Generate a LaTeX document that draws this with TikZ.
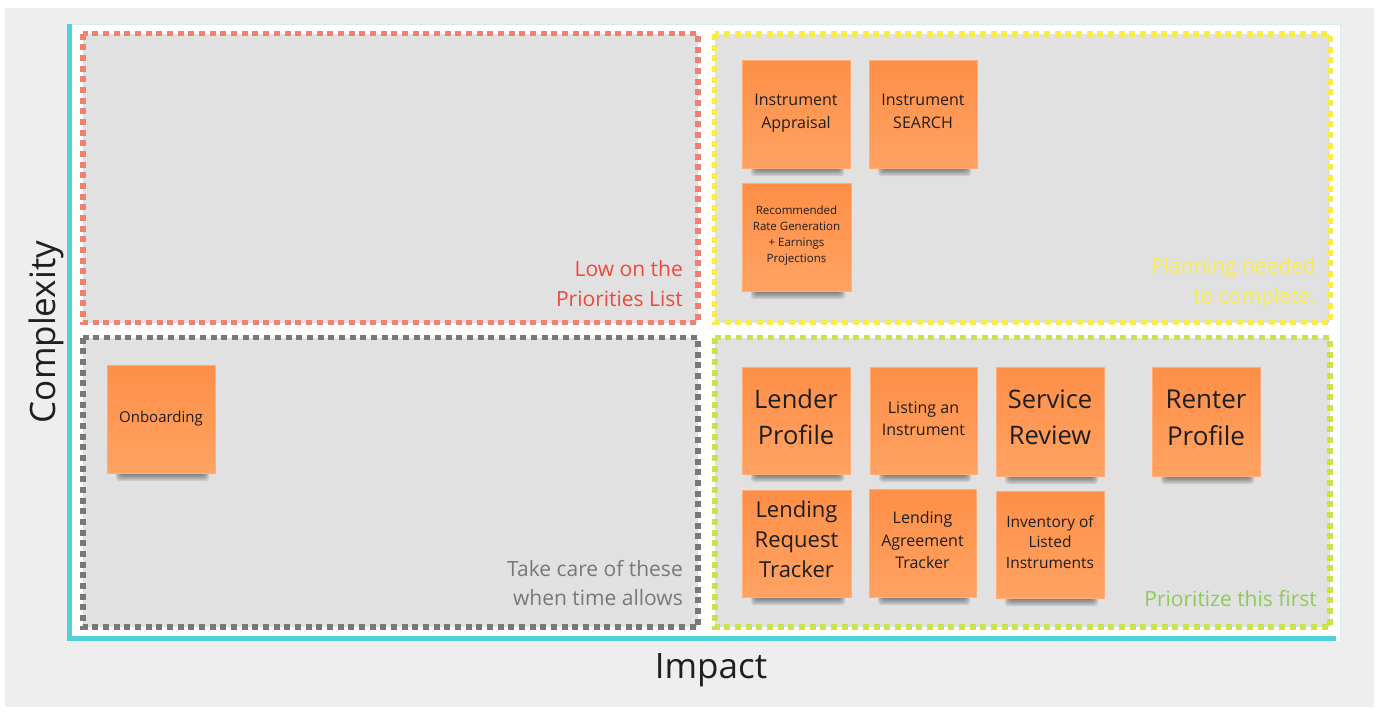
\documentclass[tikz,border=0pt]{standalone}
\usepackage{fontspec}
\setmainfont{Open Sans}
\definecolor{bgout}{HTML}{EEEEEE}
\definecolor{quadfill}{HTML}{E1E1E1}
\definecolor{axiscyan}{HTML}{4FD1D9}
\definecolor{panelline}{HTML}{D5EDEF}
\definecolor{qred}{HTML}{F08074}
\definecolor{qyellow}{HTML}{F7EC4E}
\definecolor{qgray}{HTML}{787878}
\definecolor{qgreen}{HTML}{CBE24C}
\definecolor{tred}{HTML}{EB4A3B}
\definecolor{tyellow}{HTML}{F6EC55}
\definecolor{tgray}{HTML}{787878}
\definecolor{tgreen}{HTML}{8ACB5A}
\definecolor{notetop}{HTML}{FE8F47}
\definecolor{notebot}{HTML}{FFA263}
\definecolor{noteedge}{HTML}{FFAE78}
\definecolor{notetext}{HTML}{1E1E1E}
% #1 name, #2 left, #3 top, #4 width, #5 height, #6 font size, #7 line skip, #8 text, #9 text lift
\newcommand\stickynote[9]{%
  \foreach \k in {0,...,4}{%
    \fill[black, opacity=0.1, rounded corners=3pt]
      ({#2+9+1.2*\k},{#3+#5-6}) rectangle ({#2+#4-6-1.2*\k},{#3+#5+8-1.5*\k});
  }
  \node[notebox, minimum width=#4pt, minimum height=#5pt] (#1) at ({#2+#4/2},{#3+#5/2}) {};
  \node[notetxt, font=\fontsize{#6}{#7}\selectfont] (#1-text) at ([yshift=#9pt]#1.center) {#8};
}
\begin{document}
\begin{tikzpicture}[x=1pt,y=-1pt,
  quadrant/.style={line width=5.5pt, dash pattern=on 6pt off 4.67pt},
  notebox/.style={draw=noteedge, line width=0.6pt, top color=notetop, bottom color=notebot,
    inner sep=0pt},
  notetxt/.style={inner sep=0pt, align=center, text=notetext},
  qlabel/.style={inner sep=0pt, align=right, font=\fontsize{21}{30}\selectfont},
  axislabel/.style={inner sep=0pt, text=black!88, font=\fontsize{35}{40}\selectfont}]
\useasboundingbox (0,0) rectangle (1380,715);
\fill[white] (0,0) rectangle (1380,715);
\fill[bgout] (5,8) rectangle (1374,707);
% panel
\fill[white] (67,24) rectangle (1341,641);
\draw[panelline, line width=1pt] (72,24.5) -- (1340.5,24.5) -- (1340.5,641);
% axes
\fill[axiscyan] (67,24) rectangle (72,641);
\fill[axiscyan] (67,636) rectangle (1336,641);
% quadrant fills
\fill[quadfill] (83,33.5) rectangle (698,322.5);
\fill[quadfill] (714.5,34) rectangle (1330,322.5);
\fill[quadfill] (83,337.5) rectangle (698,627);
\fill[quadfill] (715,337.5) rectangle (1330,627);
% quadrant borders
\draw[quadrant, qred] (83,33.5) rectangle (698,322.5);
\draw[quadrant, qyellow] (714.5,34) rectangle (1330,322.5);
\draw[quadrant, qgray] (83,337.5) rectangle (698,627);
\draw[quadrant, qgreen] (715,337.5) rectangle (1330,627);
% quadrant labels (base = last line)
\node[qlabel, text=tred, anchor=base east] (lowlbl) at (683,306) {Low on the\\Priorities List};
\node[qlabel, text=tyellow, anchor=base east] (planlbl) at (1316,303) {Planning needed\\to complete.};
\node[qlabel, text=tgray, anchor=base east, font=\fontsize{21}{28.5}\selectfont] (carelbl) at (683,605) {Take care of these\\when time allows};
\node[qlabel, text=tgreen, anchor=base east] (prilbl) at (1317,606.5) {Prioritize this first};
% axis labels
\node[axislabel, anchor=base, rotate=90] (complexity) at (55,332) {Complexity};
\node[axislabel, anchor=base] (impact) at (711,678) {Impact};
% sticky notes
\stickynote{ia}{742}{60}{108}{108}{16}{23}{Instrument\\Appraisal}{1}
\stickynote{is}{869}{60}{108}{108}{16}{23}{Instrument\\SEARCH}{3}
\stickynote{rr}{742}{183}{109}{108}{11.5}{16}{Recommended\\Rate Generation\\+ Earnings\\Projections}{1}
\stickynote{ob}{107}{365}{108}{108}{15}{20}{Onboarding}{0}
\stickynote{lp}{742}{367}{108}{107}{25.5}{36}{Lender\\Profile}{4}
\stickynote{li}{870}{367}{107}{107}{16}{22.5}{Listing an\\Instrument}{2}
\stickynote{sr}{996}{367}{108}{109}{25.5}{36}{Service\\Review}{4}
\stickynote{rp}{1152}{367}{108}{109}{26}{37}{Renter\\Profile}{4}
\stickynote{lr}{742}{490}{109}{107}{22}{30}{Lending\\Request\\Tracker}{4}
\stickynote{la}{869}{489}{107}{108}{16}{22.5}{Lending\\Agreement\\Tracker}{3}
\stickynote{iv}{996}{491}{108}{107}{15.5}{20.5}{Inventory of\\Listed\\Instruments}{2.5}
\end{tikzpicture}
\end{document}
